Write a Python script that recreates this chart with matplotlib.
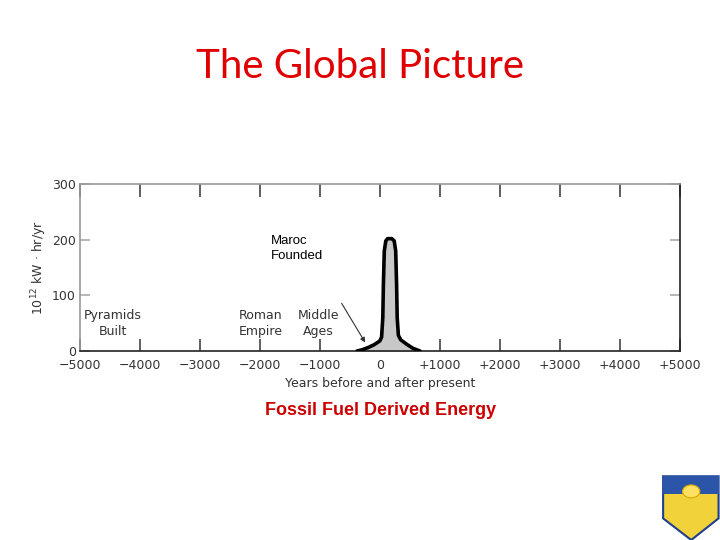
import matplotlib.pyplot as plt
from matplotlib.patches import Polygon, Circle, Rectangle

# energy curve (year, 10^12 kW-hr/yr)
years = [-380, -300, -200, -100, 0, 30, 50, 60, 75, 100, 130, 200, 240, 265, 280, 290, 310, 350, 450, 550, 670]
energy = [0, 2, 6, 11, 18, 25, 60, 120, 180, 198, 202, 202, 198, 180, 120, 60, 28, 20, 12, 5, 0]

x_ticks = [-5000, -4000, -3000, -2000, -1000, 0, 1000, 2000, 3000, 4000, 5000]
x_labels = ['\u22125000', '\u22124000', '\u22123000', '\u22122000', '\u22121000', '0',
            '+1000', '+2000', '+3000', '+4000', '+5000']
y_ticks = [0, 100, 200, 300]

# era labels (text, year, value)
eras = [("Pyramids\nBuilt", -4450, 50), ("Roman\nEmpire", -1980, 50), ("Middle\nAges", -1020, 50)]

fig = plt.figure(figsize=(7.2, 5.4), dpi=100)
fig.patch.set_facecolor('white')

ax = fig.add_axes([0.111, 0.35, 0.833, 0.309])
ax.fill_between(years, energy, color='#c8c8c8', zorder=2)
ax.plot(years, energy, color='black', lw=2.6, zorder=3, solid_capstyle='round',
        solid_joinstyle='round')

ax.set_xlim(-5000, 5000)
ax.set_ylim(0, 300)
ax.set_xticks(x_ticks)
ax.set_xticklabels(x_labels)
ax.set_yticks(y_ticks)
ax.tick_params(axis='both', direction='in', length=9, width=1.2, colors='#444444',
               labelsize=9, top=True, right=True, labelcolor='#333333')
ax.tick_params(axis='x', pad=6)
ax.tick_params(axis='y', length=7, colors='#aaaaaa', labelcolor='#333333', pad=3)

for side in ['top', 'left']:
    ax.spines[side].set_color('#999999')
for side in ['bottom', 'right']:
    ax.spines[side].set_color('#222222')
for s in ax.spines.values():
    s.set_linewidth(1.2)

ax.set_ylabel('10$^{12}$ kW \u00b7 hr/yr', fontsize=9, color='#333333', labelpad=2)
ax.set_xlabel('Years before and after present', fontsize=9, color='#333333', labelpad=3)

for txt, yr, val in eras:
    ax.text(yr, val, txt, ha='center', va='center', fontsize=9, color='#333333',
            linespacing=1.3)

ax.text(-1820, 185, "Maroc\nFounded", ha='left', va='center', fontsize=9.5,
        family='Liberation Sans', color='black', linespacing=1.35)

ax.annotate('', xy=(-220, 11), xytext=(-660, 90),
            arrowprops=dict(arrowstyle='-|>', color='#333333', lw=0.8,
                            mutation_scale=7))

fig.text(0.5, 0.876, "The Global Picture", ha='center', va='center', fontsize=29,
         color='#e00000', family='Lato')
fig.text(0.529, 0.239, "Fossil Fuel Derived Energy", ha='center', va='center',
         fontsize=13, color='#cc0000', family='Liberation Sans', fontweight='bold')

# small shield logo, bottom right
shield = [(0.921, 0.118), (0.998, 0.118), (0.998, 0.04), (0.96, 0.0), (0.921, 0.04)]
fig.patches.append(Polygon(shield, closed=True, transform=fig.transFigure,
                           facecolor='#f2d23a', edgecolor='#1f3f8f', lw=1.5))
fig.patches.append(Rectangle((0.921, 0.085), 0.077, 0.033, transform=fig.transFigure,
                             facecolor='#2a55a8', edgecolor='none'))
fig.patches.append(Circle((0.96, 0.09), 0.012, transform=fig.transFigure,
                          facecolor='#ffe060', edgecolor='#d8a800', lw=0.8))

fig.savefig('out.png', dpi=100, facecolor='white')
